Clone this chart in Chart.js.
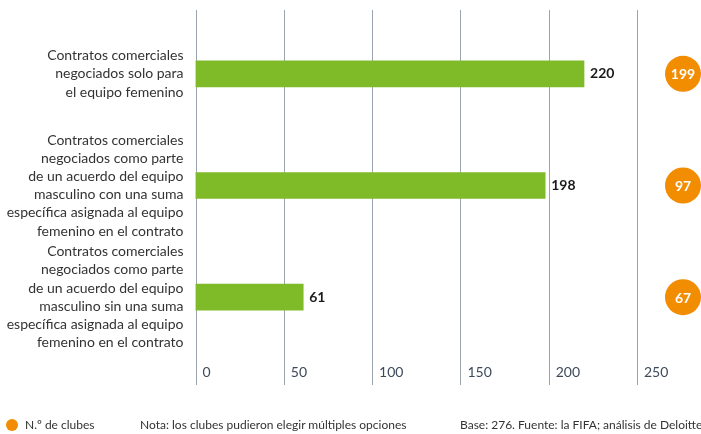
<!DOCTYPE html>
<html>
<head>
<meta charset="utf-8">
<script src="https://cdn.jsdelivr.net/npm/chart.js@4.4.1/dist/chart.umd.min.js"></script>
<style>
  html, body { margin: 0; padding: 0; background: #fff; }
  #wrap { position: relative; width: 701px; height: 434px; }
  canvas { position: absolute; left: 0; top: 0; }
  .foot { position: absolute; top: 417px; font: 12px Lato, sans-serif; color: #333; white-space: nowrap; }
  .dot { position: absolute; left: 6px; top: 419px; width: 12px; height: 12px; border-radius: 50%; background: #F28C00; }
</style>
</head>
<body>
<div id="wrap">
  <canvas id="c" width="701" height="434"></canvas>
  <div class="dot"></div>
  <div class="foot" style="left:25px">N.º de clubes</div>
  <div class="foot" style="left:140px">Nota: los clubes pudieron elegir múltiples opciones</div>
  <div class="foot" style="left:460px">Base: 276. Fuente: la FIFA; análisis de Deloitte</div>
</div>
<script>
const categories = [
  ["Contratos comerciales", "negociados solo para", "el equipo femenino"],
  ["Contratos comerciales", "negociados como parte", "de un acuerdo del equipo", "masculino con una suma", "específica asignada al equipo", "femenino en el contrato"],
  ["Contratos comerciales", "negociados como parte", "de un acuerdo del equipo", "masculino sin una suma", "específica asignada al equipo", "femenino en el contrato"]
];
const contractValues = [220, 198, 61];
const clubCounts = [199, 97, 67];
const tickValues = [0, 50, 100, 150, 200, 250];

const FONT = "Lato, sans-serif";

const overlay = {
  id: 'overlay',
  beforeDatasetsDraw(chart) {
    const ctx = chart.ctx, xs = chart.scales.x;
    ctx.save();
    ctx.strokeStyle = '#9aa4ae';
    ctx.lineWidth = 1;
    tickValues.forEach(v => {
      const x = Math.round(xs.getPixelForValue(v)) + 0.5;
      ctx.beginPath(); ctx.moveTo(x, 10); ctx.lineTo(x, 385); ctx.stroke();
    });
    ctx.fillStyle = '#3d4a5c';
    ctx.font = '14px ' + FONT;
    ctx.textBaseline = 'middle';
    ctx.textAlign = 'left';
    tickValues.forEach(v => {
      ctx.fillText(String(v), xs.getPixelForValue(v) + 7, 372);
    });
    ctx.restore();
  },
  afterDatasetsDraw(chart) {
    const ctx = chart.ctx, meta = chart.getDatasetMeta(0);
    ctx.save();
    ctx.textBaseline = 'middle';
    meta.data.forEach((bar, i) => {
      ctx.fillStyle = '#1a1a1a';
      ctx.font = 'bold 14px ' + FONT;
      ctx.textAlign = 'left';
      ctx.fillText(String(contractValues[i]), bar.x + 6, bar.y);
      ctx.beginPath();
      ctx.arc(683, bar.y, 18, 0, Math.PI * 2);
      ctx.fillStyle = '#F28C00';
      ctx.fill();
      ctx.fillStyle = '#ffffff';
      ctx.textAlign = 'center';
      ctx.fillText(String(clubCounts[i]), 683, bar.y + 1);
    });
    ctx.restore();
  }
};

new Chart(document.getElementById('c'), {
  type: 'bar',
  data: {
    labels: categories,
    datasets: [{
      data: contractValues,
      backgroundColor: '#7FBA28',
      borderWidth: 0,
      barThickness: 26
    }]
  },
  options: {
    indexAxis: 'y',
    responsive: false,
    animation: false,
    layout: { padding: { left: 0, right: 64, top: 18, bottom: 81 } },
    plugins: { legend: { display: false }, tooltip: { enabled: false } },
    scales: {
      x: { display: false, min: 0, max: 250 },
      y: {
        grid: { display: false },
        border: { display: false },
        afterFit(scale) {
          scale.width = 195.5;
          scale.paddingTop = 0;
          scale.paddingBottom = 0;
        },
        ticks: {
          autoSkip: false,
          padding: 4,
          color: '#333333',
          font: { family: FONT, size: 14, lineHeight: 1.3 }
        }
      }
    }
  },
  plugins: [overlay]
});
</script>
</body>
</html>
